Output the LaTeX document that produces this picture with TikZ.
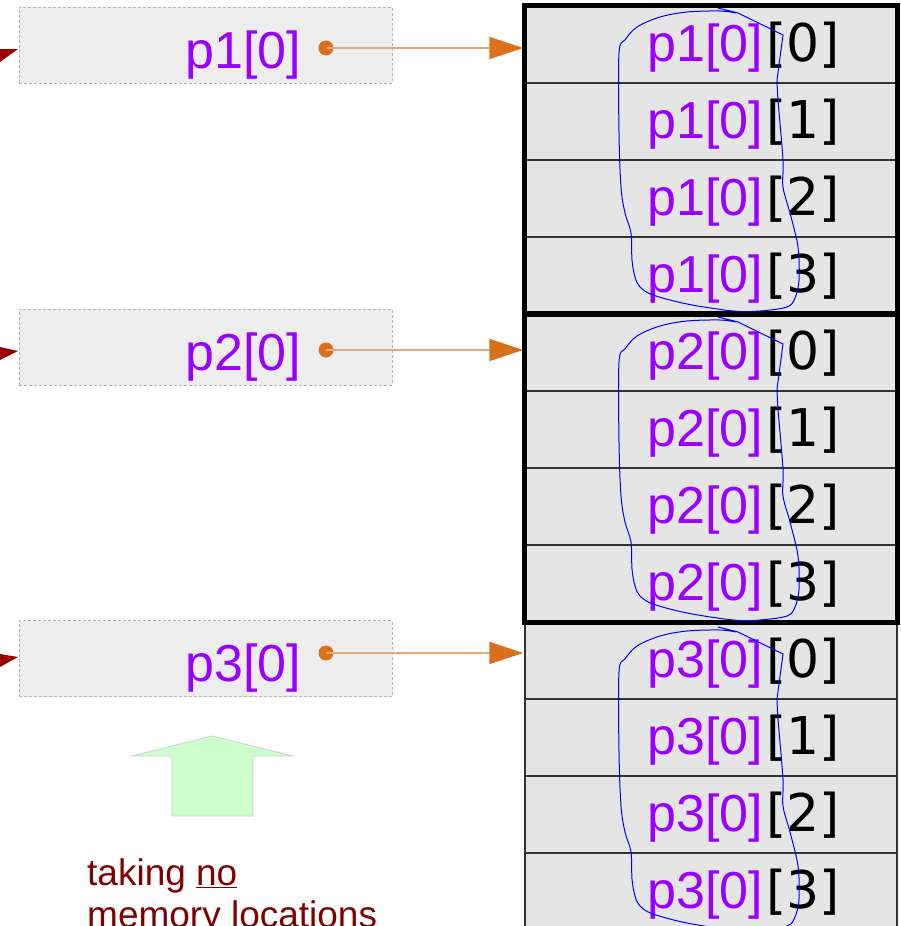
\documentclass[tikz,border=0pt]{standalone}
\usepackage{fontspec}
\setmainfont{Liberation Sans}
\newfontfamily\dvfont{DejaVu Sans}
\usetikzlibrary{arrows.meta}
\definecolor{ptrpurple}{HTML}{9900FF}
\definecolor{ptrorange}{HTML}{D9711C}
\definecolor{ptrline}{HTML}{E8A878}
\definecolor{cellgray}{HTML}{E5E5E5}
\definecolor{boxgray}{HTML}{EDEDED}
\definecolor{dashgray}{HTML}{B4B4B4}
\definecolor{notered}{HTML}{800000}
\definecolor{tipred}{HTML}{990000}
\definecolor{arrowgreen}{HTML}{CCFFCC}
\definecolor{loopblue}{HTML}{0000FF}
\tikzset{
  ptrbox/.style={draw=dashgray, dash pattern=on 3pt off 2pt, line width=1pt, fill=boxgray,
    minimum width=373pt, minimum height=76pt, inner sep=0pt},
  cellbox/.style={draw=black!80, line width=1.5pt, fill=cellgray,
    minimum width=372pt, minimum height=77pt, inner sep=0pt},
  groupframe/.style={draw=black, line width=5pt},
  bigtext/.style={inner sep=0pt, anchor=base west, text=ptrpurple, font=\fontsize{52}{60}\selectfont},
  celltext/.style={inner sep=0pt, anchor=base west, text=ptrpurple, font=\fontsize{52}{60}\selectfont},
  ptrdot/.style={circle, fill=ptrorange, inner sep=0pt, minimum size=15pt},
  ptrarrow/.style={draw=ptrline, line width=2pt, -{Triangle[length=34pt,width=22pt,color=ptrorange]}, shorten >=1pt},
  blueloop/.style={draw=loopblue, line width=1pt},
  notetext/.style={inner sep=0pt, anchor=base west, text=notered, font=\fontsize{37}{42}\selectfont},
}
\begin{document}
\begin{tikzpicture}[x=1pt,y=-1pt]
\useasboundingbox (0,0) rectangle (900,926);
\clip (0,0) rectangle (900,926);

% left pointer boxes
\node[ptrbox] (b1) at (205.5,45) {};
\node[ptrbox] (b2) at (205.5,347) {};
\node[ptrbox] (b3) at (205.5,658.5) {};
\node[bigtext] (l1) at (185,68) {p1[0]};
\node[bigtext] (l2) at (185,370) {p2[0]};
\node[bigtext] (l3) at (185,681) {p3[0]};

% dark red arrow tips at the left edge
\fill[tipred] (0,49) -- (18,49) -- (0,62) -- cycle;
\fill[tipred] (0,347) -- (18,351) -- (0,360) -- cycle;
\fill[tipred] (0,654) -- (18,657) -- (0,667) -- cycle;

% memory cells
\foreach \gi/\top in {1/6,2/314,3/622} {
  \foreach \k in {0,...,3} {
    \node[cellbox] (c\gi\k) at (711,{\top+38.5+77*\k}) {};
    \node[celltext] (t\gi\k) at (647.5,{\top+38.5+77*\k+17}) {p\gi[0]\kern3pt\textcolor{black}{\dvfont\fontsize{52}{60}\selectfont[\k]}};
  }
}
\draw[groupframe] (c10.north west) rectangle (c13.south east);
\draw[groupframe] (c20.north west) rectangle (c23.south east);

% pointers
\node[ptrdot] (d1) at (326,48) {};
\node[ptrdot] (d2) at (326,350) {};
\node[ptrdot] (d3) at (326,653) {};
\draw[ptrarrow] (d1.center) -- (d1 -| c10.west);
\draw[ptrarrow] (d2.center) -- (d2 -| c20.west);
\draw[ptrarrow] (d3.center) -- (d3 -| c30.west);

% blue hand-drawn loops
\foreach \off in {0,309,619} {
  \begin{scope}[shift={(0,\off)}]
    \draw[blueloop] (718,8) -- (738,13) -- (783,35) -- (777,80)
      plot[smooth, tension=0.55] coordinates {(777,80) (778,100) (783,160) (783,187) (790,213) (798,247)
        (799,280) (795,298) (787,307) (760,311) (733,311) (687,304) (653,295) (640,287) (635,277)
        (632,260) (631,233) (625,213) (621,187) (619,133) (619,53) (625,40) (637,27) (660,17)
        (687,12) (720,11) (736,13)};
  \end{scope}
}

% green up arrow
\draw[draw=black!20, line width=0.8pt, fill=arrowgreen]
  (132,756) -- (212,736) -- (293,756) -- (253,756) -- (253,816) -- (172,816) -- (172,756) -- cycle;

% note text
\node[notetext] (n1) at (87,885) {taking \underline{no}};
\node[notetext] (n2) at (87,927) {memory locations};
\end{tikzpicture}
\end{document}
